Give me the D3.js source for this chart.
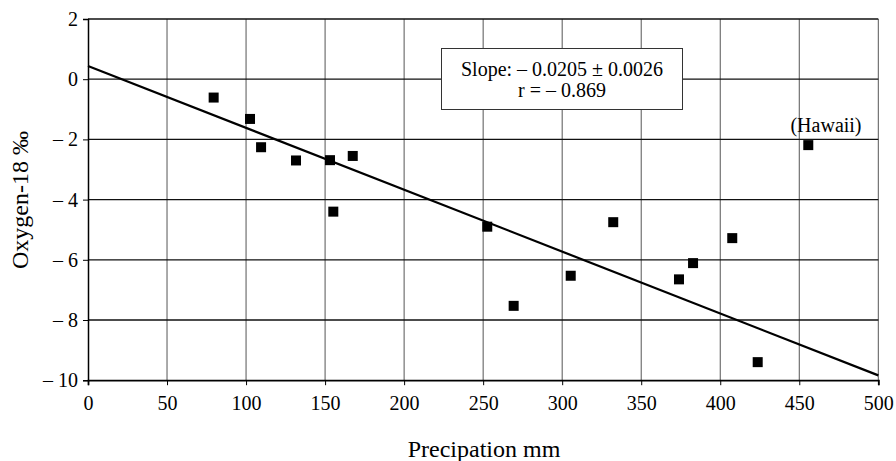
<!DOCTYPE html>
<html>
<head>
<meta charset="utf-8">
<script src="https://cdn.jsdelivr.net/npm/d3@7"></script>
<style>
  html, body { margin: 0; padding: 0; background: #fff; }
  svg { display: block; }
  text { font-family: "Liberation Serif", "Times New Roman", serif; fill: #000; }
</style>
</head>
<body>
<svg id="chart" width="896" height="461"></svg>
<script>
// ---- data ----
const precipitation = [79.5, 102.5, 109.5, 131.6, 153.1, 167.5, 155.2, 252.6, 269.3, 305.4, 332.3, 373.9, 382.8, 407.6, 423.7, 455.7];
const oxygen18      = [-0.61, -1.32, -2.26, -2.70, -2.69, -2.55, -4.40, -4.90, -7.53, -6.53, -4.75, -6.65, -6.11, -5.28, -9.40, -2.19];
const fitX = [0, 500];
const fitY = [0.44, -9.84];
const xTicks = [0, 50, 100, 150, 200, 250, 300, 350, 400, 450, 500];
const yTicks = [2, 0, -2, -4, -6, -8, -10];
const yTickLabels = ["2", "0", "\u2013 2", "\u2013 4", "\u2013 6", "\u2013 8", "\u2013 10"];
const annotationLines = ["Slope: \u2013 0.0205 \u00b1 0.0026", "r = \u2013 0.869"];
const hawaiiLabel = "(Hawaii)";
const xTitle = "Precipation mm";
const yTitle = "Oxygen-18 \u2030";

// ---- layout ----
const svg = d3.select("#chart");
const x = d3.scaleLinear().domain([0, 500]).range([88, 878.3]);
const y = d3.scaleLinear().domain([-10, 2]).range([380.2, 19]);

// vertical gridlines
svg.append("g").selectAll("line").data(xTicks.filter(d => d !== 0)).join("line")
  .attr("x1", d => x(d)).attr("x2", d => x(d))
  .attr("y1", y(2)).attr("y2", y(-10))
  .attr("stroke", "#555").attr("stroke-width", 1);

// horizontal gridlines
svg.append("g").selectAll("line").data(yTicks.filter(d => d !== -10)).join("line")
  .attr("x1", x(0)).attr("x2", x(500))
  .attr("y1", d => y(d)).attr("y2", d => y(d))
  .attr("stroke", "#111").attr("stroke-width", 1.3);

// axes
const xAxis = d3.axisBottom(x).tickValues(xTicks).tickSize(5).tickPadding(11).tickFormat(d3.format("d"));
const gx = svg.append("g").attr("transform", `translate(0,${y(-10)})`).call(xAxis);
gx.select(".domain").attr("stroke", "#000").attr("stroke-width", 1.8);
gx.selectAll(".tick line").attr("stroke", "#000").attr("stroke-width", 1);
gx.selectAll(".tick text").attr("font-size", 20).attr("fill", "#000");

const yAxis = d3.axisLeft(y).tickValues(yTicks).tickSize(5).tickPadding(5)
  .tickFormat(d => yTickLabels[yTicks.indexOf(d)]);
const gy = svg.append("g").attr("transform", `translate(${x(0)},0)`).call(yAxis);
gy.select(".domain").attr("stroke", "#000").attr("stroke-width", 1.5);
gy.selectAll(".tick line").attr("stroke", "#000").attr("stroke-width", 1);
gy.selectAll(".tick text").attr("font-size", 20).attr("fill", "#000");

// fit line
const line = d3.line().x(d => x(d[0])).y(d => y(d[1]));
svg.append("path").datum(fitX.map((v, i) => [v, fitY[i]]))
  .attr("d", line).attr("fill", "none").attr("stroke", "#000").attr("stroke-width", 2.2);

// points
const s = 10;
svg.append("g").selectAll("rect").data(precipitation.map((v, i) => [v, oxygen18[i]])).join("rect")
  .attr("x", d => x(d[0]) - s / 2).attr("y", d => y(d[1]) - s / 2)
  .attr("width", s).attr("height", s).attr("fill", "#000");

// Hawaii label
svg.append("text").attr("x", 826).attr("y", 132).attr("text-anchor", "middle")
  .attr("font-size", 20).text(hawaiiLabel);

// annotation box
const box = svg.append("g");
box.append("rect").attr("x", 441.5).attr("y", 48.5).attr("width", 241).attr("height", 61)
  .attr("fill", "#fff").attr("stroke", "#333").attr("stroke-width", 1);
box.selectAll("text").data(annotationLines).join("text")
  .attr("x", 562).attr("y", (d, i) => 76 + i * 21).attr("text-anchor", "middle")
  .attr("font-size", 20).text(d => d);

// axis titles
svg.append("text").attr("x", 484).attr("y", 457).attr("text-anchor", "middle")
  .attr("font-size", 24).text(xTitle);
svg.append("text").attr("transform", "translate(28,200) rotate(-90)").attr("text-anchor", "middle")
  .attr("font-size", 24).text(yTitle);
</script>
</body>
</html>
